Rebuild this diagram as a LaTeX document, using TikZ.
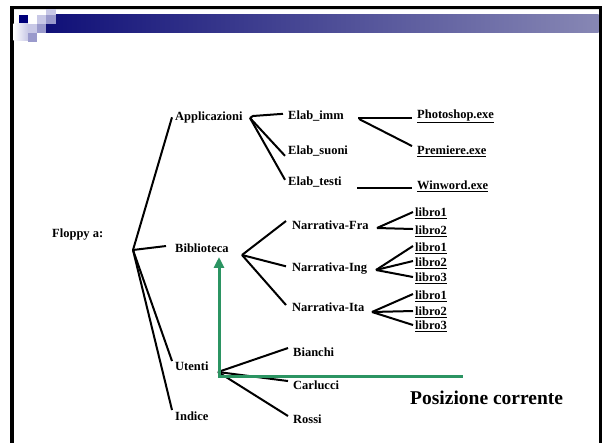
\documentclass[tikz,border=0pt]{standalone}
\usepackage{fontspec}
\setmainfont{Liberation Serif}
\usetikzlibrary{arrows.meta}
\definecolor{navy}{RGB}{0,0,122}
\definecolor{lav}{RGB}{200,200,230}
\definecolor{medlav}{RGB}{154,154,204}
\definecolor{bandL}{RGB}{16,16,120}
\definecolor{bandR}{RGB}{135,135,180}
\definecolor{grn}{RGB}{43,148,98}
\begin{document}
\begin{tikzpicture}[x=1pt,y=-1pt,
  lbl/.style={anchor=mid west, inner xsep=3pt, inner ysep=0pt, font=\fontsize{12.5}{14}\selectfont\bfseries},
  br/.style={line width=2pt, black},
  gline/.style={grn, line width=3pt}]
\useasboundingbox (0,0) rectangle (604,443);
% frame
\fill[white] (0,0) rectangle (604,443);
\fill[black] (10,6) rectangle (602,9.5);
\fill[black] (10,6) rectangle (13.5,443);
\fill[black] (598.5,6) rectangle (602,443);
\fill[black!12] (13.5,9.5) rectangle (598.5,10.5);
% header
\shade[left color=bandL, right color=bandR] (46,15) rectangle (598.5,33);
\fill[lav] (46,9.5) rectangle (56,15);
\fill[navy] (19,15) rectangle (28,24);
\fill[lav] (37,15) rectangle (46,24);
\fill[medlav] (46,15) rectangle (56,24);
\shade[left color=white, right color=lav] (13.5,24) rectangle (28,41);
\fill[lav] (28,24) rectangle (37,33);
\fill[medlav] (37,24) rectangle (46,33);
\fill[medlav] (28,33) rectangle (37,42);
% level 0/1
\node[lbl] (floppy) at (49,235) {Floppy a:};
\coordinate (root) at (133,250);
\node[lbl] (app) at (172,118) {Applicazioni};
\node[lbl] (bib) at (172,250) {Biblioteca};
\node[lbl] (ute) at (172,368) {Utenti};
\node[lbl] (ind) at (172,418) {Indice};
\draw[br] (root) -- (app.west);
\draw[br] (root) -- ([yshift=2pt,xshift=-6pt]bib.west);
\draw[br] (root) -- ([yshift=5pt]ute.west);
\draw[br] (root) -- ([yshift=6pt]ind.west);
% Applicazioni
\coordinate (jApp) at (250,118);
\node[lbl] (eimm) at (285,117) {Elab\_imm};
\node[lbl] (esuo) at (285,152) {Elab\_suoni};
\node[lbl] (etes) at (285,183) {Elab\_testi};
\draw[br] (jApp) -- ++(3,-2) -- ([yshift=2pt,xshift=-2pt]eimm.west);
\draw[br] (jApp) -- ([yshift=-5pt]esuo.west);
\draw[br] (jApp) -- ([yshift=2pt]etes.west);
\node[lbl] (photo) at (414,116) {\underline{Photoshop.exe}};
\node[lbl] (prem) at (414,152) {\underline{Premiere.exe}};
\node[lbl] (winw) at (414,187) {\underline{Winword.exe}};
\coordinate (jImm) at (359,119);
\draw[br] (jImm) -- ++(0,-1) -- ([xshift=-2pt]photo.west |- 0,118);
\draw[br] (jImm) -- ([yshift=5pt,xshift=-2pt]prem.west);
\coordinate (jTes) at (357,188);
\draw[br] (jTes) -- ([xshift=-2pt]winw.west |- jTes);
% Biblioteca
\coordinate (jBib) at (242,255);
\node[lbl, inner xsep=6pt] (nfra) at (286,227) {Narrativa-Fra};
\node[lbl, inner xsep=6pt] (ning) at (286,269) {Narrativa-Ing};
\node[lbl, inner xsep=6pt] (nita) at (286,309) {Narrativa-Ita};
\draw[br] (jBib) -- ([yshift=4pt]nfra.west);
\draw[br] (jBib) -- ([yshift=2pt]ning.west);
\draw[br] (jBib) -- ([yshift=2pt]nita.west);
\node[lbl, inner xsep=2pt] (fra1) at (413,214) {\underline{libro1}};
\node[lbl, inner xsep=2pt] (fra2) at (413,232) {\underline{libro2}};
\node[lbl, inner xsep=2pt] (ing1) at (413,249) {\underline{libro1}};
\node[lbl, inner xsep=2pt] (ing2) at (413,264) {\underline{libro2}};
\node[lbl, inner xsep=2pt] (ing3) at (413,279) {\underline{libro3}};
\node[lbl, inner xsep=2pt] (ita1) at (413,297) {\underline{libro1}};
\node[lbl, inner xsep=2pt] (ita2) at (413,313) {\underline{libro2}};
\node[lbl, inner xsep=2pt] (ita3) at (413,327) {\underline{libro3}};
\coordinate (jFra) at (377,228);
\coordinate (jIng) at (376,270);
\coordinate (jIta) at (372,312);
\draw[br] (jFra) -- ([yshift=1pt]fra1.west);
\draw[br] (jFra) -- ([yshift=2pt]fra2.west);
\draw[br] (jIng) -- ([yshift=2pt]ing1.west);
\draw[br] (jIng) -- ([yshift=2pt]ing2.west);
\draw[br] (jIng) -- ([yshift=1pt]ing3.west);
\draw[br] (jIta) -- ([yshift=2pt]ita1.west);
\draw[br] (jIta) -- ([yshift=1pt]ita2.west);
\draw[br] (jIta) -- ([yshift=1pt]ita3.west);
% Utenti
\coordinate (jUte) at (218,372);
\node[lbl, inner xsep=5pt] (bia) at (288,354) {Bianchi};
\node[lbl, inner xsep=5pt] (car) at (288,387) {Carlucci};
\node[lbl, inner xsep=5pt] (ros) at (288,421) {Rossi};
\draw[br] (jUte) -- ([yshift=4pt]bia.west);
\draw[br] (jUte) -- ([yshift=4pt]car.west);
\draw[br] (jUte) -- ([yshift=3pt]ros.west);
% current position
\coordinate (g0) at (219,376);
\coordinate (gTip) at (219,257);
\coordinate (gEnd) at (463,376);
\draw[gline, line join=miter, {Triangle[width=10pt,length=11pt]}-] (gTip) -- (g0) -- (gEnd);
\node[anchor=mid west, inner sep=0pt, font=\fontsize{19.5}{22}\selectfont\bfseries] (pos) at (410,402) {Posizione corrente};
\end{tikzpicture}
\end{document}
